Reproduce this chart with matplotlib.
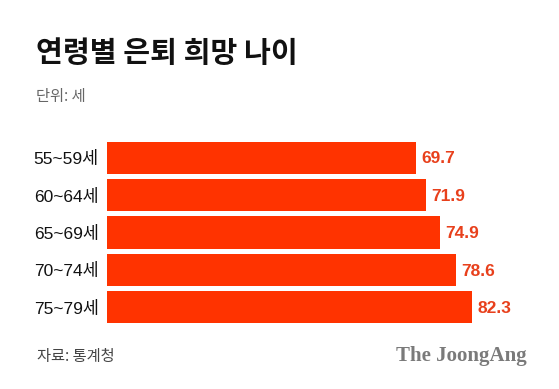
import matplotlib
matplotlib.use("Agg")
import matplotlib.pyplot as plt

# data
categories = ["55~59세", "60~64세", "65~69세", "70~74세", "75~79세"]
values = [69.7, 71.9, 74.9, 78.6, 82.3]

kr = ["Noto Sans CJK KR"]
mixed = ["Liberation Sans", "Noto Sans CJK KR"]
bar_color = "#FF3300"
val_color = "#E8401C"

W, H = 559, 389
fig = plt.figure(figsize=(W / 100, H / 100), dpi=100)
fig.patch.set_facecolor("white")

# axes placed in pixel coordinates
left, right, top, bottom = 107, 540, 139, 326
ax = fig.add_axes([left / W, 1 - bottom / H, (right - left) / W, (bottom - top) / H])

pos = list(range(len(categories)))
ax.barh(pos, values, height=0.86, color=bar_color, linewidth=0)
ax.set_ylim(len(categories) - 0.5, -0.5)
ax.set_xlim(0, (right - left) / 4.44)

for p, v in zip(pos, values):
    ax.text(v + 1.2, p + 0.03, f"{v:.1f}", va="center", ha="left",
            fontsize=12.5, fontweight="bold", color=val_color, family=mixed)

ax.set_yticks(pos)
ax.set_yticklabels(categories, family=mixed, fontsize=12.5, color="#111111")
ax.tick_params(axis="y", length=0, pad=6)
ax.set_xticks([])
for s in ax.spines.values():
    s.set_visible(False)

# title and notes
fig.text(36 / W, 1 - 53 / H, "연령별 은퇴 희망 나이", family=kr, fontsize=21,
         fontweight=900, va="center", ha="left", color="#111111")
fig.text(36 / W, 1 - 97 / H, "단위: 세", family=kr, fontsize=11,
         va="center", ha="left", color="#666666")
fig.text(37 / W, 1 - 356 / H, "자료: 통계청", family=kr, fontsize=11,
         va="center", ha="left", color="#444444")
fig.text(527 / W, 1 - 356 / H, "The JoongAng", family=["Liberation Serif"],
         fontsize=15, fontweight="bold", va="center", ha="right", color="#7a7a7a")

fig.savefig("out.png", dpi=100, facecolor="white")
